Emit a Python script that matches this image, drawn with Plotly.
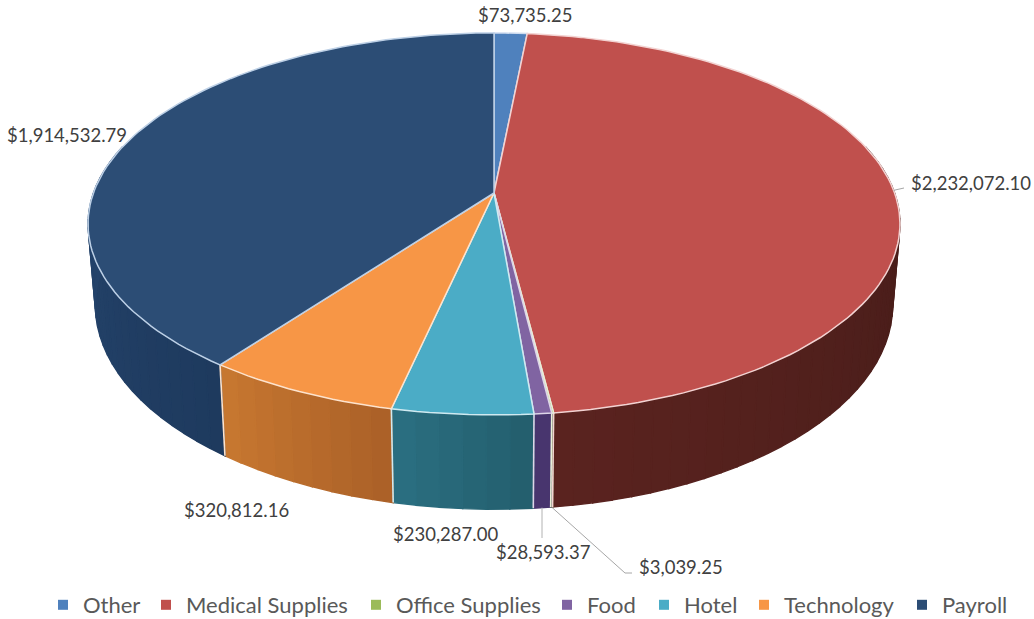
import math
import plotly.graph_objects as go

categories = ["Other", "Medical Supplies", "Office Supplies", "Food", "Hotel", "Technology", "Payroll"]
amounts = [73735.25, 2232072.10, 3039.25, 28593.37, 230287.00, 320812.16, 1914532.79]
top_colors = ["#4f81bd", "#c0504d", "#9bbb59", "#8064a2", "#4bacc6", "#f79646", "#2c4d75"]
# wall shade at the clockwise start and end of every slice
wall_start = ["#2f4d71", "#431b18", "#4f5f2d", "#46346c", "#235d6c", "#aa6028", "#1e3a5e"]
wall_end = ["#2f4d71", "#5a231f", "#4f5f2d", "#4a3670", "#2b7082", "#c87830", "#26466f"]
edge_colors = ["#cfdcef", "#f3d3d2", "#e8efd8", "#ddd5e8", "#cfeaf1", "#fde3cd", "#bdd0e6"]

# layout of the drawing (pixels of the page)
X0, Y0 = 494, 193
RX, RY, PERSP, DEPTH, SHRINK = 400.6, 186, 0.162, 79, 0.982
FONT = "Lato"
LABEL_COLOR = "#404040"
LEGEND_COLOR = "#595959"

label_pos = [(476, 15, "left"), (909, 183, "left"), (637, 567, "left"), (494, 552, "left"),
             (391, 534, "left"), (182, 510, "left"), (5, 135, "left")]
legend_x = [43, 146, 356, 547, 644, 744, 902]

total = sum(amounts)


def project(theta, z=0.0):
    u, v = math.sin(theta), -math.cos(theta)
    s = 1 / (1 - PERSP * v)
    f = 1 - (1 - SHRINK) * z
    return X0 + RX * u * s * f, Y0 + RY * v * s + DEPTH * s * z


def mix(c1, c2, t):
    a = [int(c1[i:i + 2], 16) for i in (1, 3, 5)]
    b = [int(c2[i:i + 2], 16) for i in (1, 3, 5)]
    return "#%02x%02x%02x" % tuple(round(p + (q - p) * t) for p, q in zip(a, b))


angles = [0.0]
for a in amounts:
    angles.append(angles[-1] + 2 * math.pi * a / total)

fig = go.Figure()


def poly(xs, ys, fill, line=None, width=1.4):
    fig.add_trace(go.Scatter(x=xs, y=ys, mode="lines", fill="toself", fillcolor=fill,
                             line=dict(color=line or fill, width=width),
                             hoverinfo="skip", showlegend=False))


def stroke(xs, ys, color, width=1.5):
    fig.add_trace(go.Scatter(x=xs, y=ys, mode="lines", line=dict(color=color, width=width),
                             hoverinfo="skip", showlegend=False))


# walls, from the sides towards the front
LOW, HIGH = math.radians(75), math.radians(285)
for i, cat in enumerate(categories):
    t0, t1 = max(angles[i], LOW), min(angles[i + 1], HIGH)
    if t1 <= t0:
        continue
    n = max(1, int((t1 - t0) / math.radians(2.5)))
    for j in range(n):
        a, b = t0 + (t1 - t0) * j / n, t0 + (t1 - t0) * (j + 1) / n
        p = [project(a), project(b), project(b, 1), project(a, 1), project(a)]
        poly([q[0] for q in p], [q[1] for q in p], mix(wall_start[i], wall_end[i], (j + .5) / n))

# seams between wall pieces
for i in range(len(categories)):
    t = angles[i + 1]
    if LOW < t < HIGH:
        a, b = project(t), project(t, 1)
        stroke([a[0], b[0]], [a[1], b[1]], edge_colors[i], 1.6)

# top surface
for i, cat in enumerate(categories):
    t0, t1 = angles[i], angles[i + 1]
    n = max(2, int((t1 - t0) / math.radians(1.5)))
    arc = [project(t0 + (t1 - t0) * j / n) for j in range(n + 1)]
    xs = [X0] + [q[0] for q in arc] + [X0]
    ys = [Y0] + [q[1] for q in arc] + [Y0]
    poly(xs, ys, top_colors[i], edge_colors[i], 1.5)

# leader lines, anchored on the pie through the slice angles
mid = [(angles[i] + angles[i + 1]) / 2 for i in range(len(categories))]
LEADER = "#a6a6a6"
a = project(mid[1])
stroke([a[0], 904], [a[1], 188], LEADER, 1)
a = project(mid[3], 1)
stroke([a[0], a[0]], [a[1], 538], "#bfbfbf", 1.2)
a = project(mid[2], 1)
stroke([a[0], 625, 632], [a[1], 573, 573], LEADER, 1)

annotations = []
for i, (x, y, anchor) in enumerate(label_pos):
    annotations.append(dict(x=x, y=y, xref="x", yref="y", xanchor=anchor, yanchor="middle",
                            text="${:,.2f}".format(amounts[i]), showarrow=False,
                            font=dict(family=FONT, size=18.5, color=LABEL_COLOR)))

layout_legends = {}
for i, cat in enumerate(categories):
    key = "legend" if i == 0 else "legend%d" % (i + 1)
    fig.add_trace(go.Scatter(x=[None], y=[None], mode="markers", name=cat, legend=key,
                             marker=dict(symbol="square", size=10, color=top_colors[i])))
    layout_legends[key] = dict(x=legend_x[i] / 1034, y=1 - 605 / 619, xanchor="left", yanchor="middle",
                               bgcolor="rgba(0,0,0,0)", borderwidth=0,
                               font=dict(family=FONT, size=22, color=LEGEND_COLOR))

fig.update_layout(width=1034, height=619, margin=dict(l=0, r=0, t=0, b=0, autoexpand=False),
                  paper_bgcolor="white", plot_bgcolor="white", annotations=annotations,
                  xaxis=dict(range=[0, 1034], visible=False, fixedrange=True),
                  yaxis=dict(range=[619, 0], visible=False, fixedrange=True),
                  **layout_legends)

fig.write_html("out.html", config={"displayModeBar": False},
               post_script="document.body.style.margin='0';")
